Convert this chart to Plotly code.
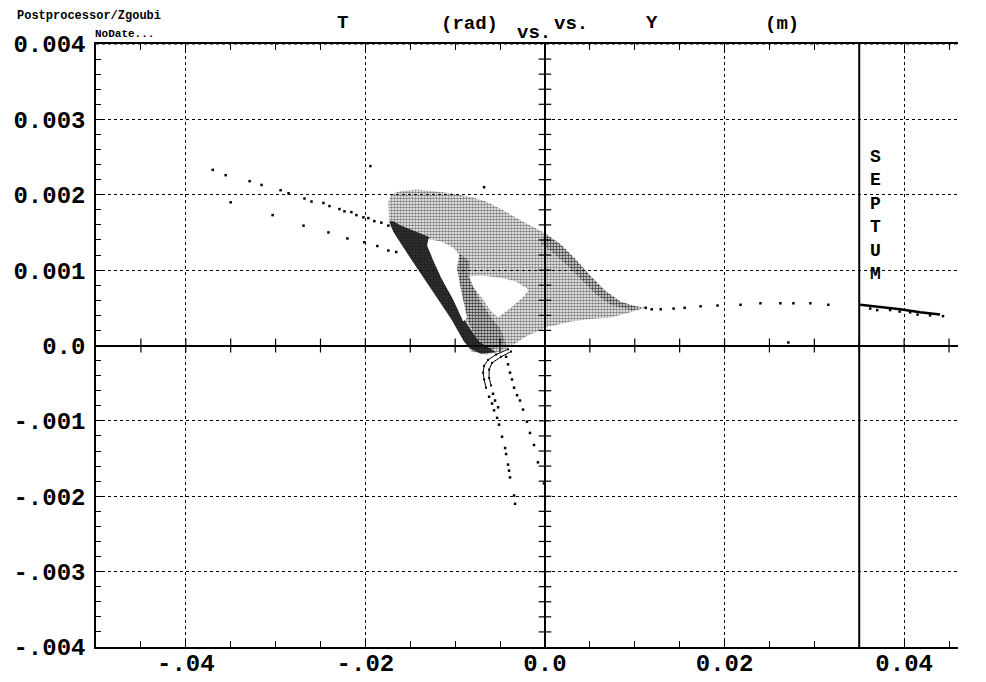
import numpy as np
import plotly.graph_objects as go

# ---------------- phase-space data : Y (m) vs T (rad) ----------------
# outer envelope of the circulating-beam cloud
cloud_y = [-0.01744, -0.01711, -0.0160, -0.01433, -0.01267, -0.01044, -0.00822, -0.00656,
           -0.00489, -0.00267, -0.00011, 0.00178, 0.00344, 0.00511, 0.00678, 0.00844,
           0.01011, 0.01122, 0.00956, 0.00733, 0.00511, 0.00289, 0.00011, -0.00211,
           -0.00378, -0.00489, -0.00656, -0.00822, -0.009, -0.01044, -0.01244, -0.01467,
           -0.01656, -0.01733]
cloud_t = [0.0019, 0.00201, 0.00205, 0.00207, 0.00205, 0.00202, 0.00197, 0.00191,
           0.00181, 0.00166, 0.0015, 0.00134, 0.00114, 0.00092, 0.00072, 0.00058,
           0.00052, 0.0005, 0.00044, 0.00037, 0.00035, 0.00032, 0.00024, 0.00012,
           -0.00001, -0.00008, -0.00012, -0.00008, 0.00005, 0.00035, 0.00072, 0.00112,
           0.00145, 0.00161]

# dense separatrix band on the left side of the cloud
band_y = [-0.01733, -0.01689, -0.01489, -0.01267, -0.01044, -0.009, -0.00822, -0.00711,
          -0.00544, -0.00733, -0.00867, -0.00989, -0.01133, -0.01244, -0.01311, -0.01289,
          -0.01433, -0.016, -0.01689]
band_t = [0.00165, 0.00151, 0.00114, 0.00074, 0.00035, 0.00005, -0.00005, -0.00011,
          -0.00009, 0.00005, 0.00028, 0.00054, 0.00085, 0.00112, 0.00134, 0.00144,
          0.00151, 0.00159, 0.00165]

# inner band between the two islands
band2_y = [-0.01022, -0.00844, -0.00844, -0.00733, -0.006, -0.00489, -0.00433, -0.006,
           -0.00733, -0.00867, -0.00933, -0.00978]
band2_t = [0.00128, 0.00112, 0.00092, 0.00061, 0.00037, 0.00021, 0.00001, -0.00005,
           0.00001, 0.00035, 0.00072, 0.00101]

# denser outer rim of the right lobe
rim_y = [-0.00011, 0.00178, 0.00344, 0.00511, 0.00678, 0.00844, 0.01011, 0.01122,
         0.00956, 0.00733, 0.00567, 0.004, 0.00233, 0.00067, -0.00044]
rim_t = [0.0015, 0.00134, 0.00114, 0.00092, 0.00072, 0.00058, 0.00052, 0.0005,
         0.00047, 0.00054, 0.00068, 0.00088, 0.00108, 0.00125, 0.00134]

# empty islands inside the cloud
hole1_y = [-0.013, -0.01156, -0.01022, -0.00956, -0.00978, -0.00933, -0.00867, -0.00911,
           -0.01022, -0.01156, -0.01256, -0.01311]
hole1_t = [0.00141, 0.00138, 0.0013, 0.00121, 0.00101, 0.00072, 0.00037, 0.00032,
           0.00061, 0.0009, 0.00117, 0.00132]
hole2_y = [-0.00844, -0.00711, -0.00489, -0.00322, -0.00178, -0.00244, -0.004, -0.00522,
           -0.006, -0.00689, -0.008]
hole2_t = [0.00092, 0.00093, 0.0009, 0.00085, 0.00074, 0.00064, 0.00048, 0.00037,
           0.00045, 0.00061, 0.00078]

# isolated particles streaming out to the upper left
stream_y = [-0.037, -0.03556, -0.03289, -0.03156, -0.02944, -0.02856, -0.02678, -0.026,
            -0.02467, -0.024, -0.02289, -0.02233, -0.02156, -0.021, -0.02022, -0.01967,
            -0.019, -0.01822, -0.01744, -0.035, -0.03033, -0.02689, -0.02411, -0.022,
            -0.02011, -0.01867, -0.01744, -0.01656, -0.01944, -0.00678]
stream_t = [0.00233, 0.00226, 0.00218, 0.00213, 0.00206, 0.00202, 0.00195, 0.00191,
            0.00189, 0.00185, 0.00181, 0.00178, 0.00177, 0.00173, 0.0017, 0.00169,
            0.00165, 0.00163, 0.00159, 0.0019, 0.00173, 0.00159, 0.0015, 0.00142,
            0.00137, 0.00132, 0.00126, 0.00124, 0.00238, 0.0021]

# lower arms below T = 0
hook1_y = [-0.00411, -0.00544, -0.00633, -0.00678, -0.00689, -0.00678, -0.00656]
hook1_t = [-0.00005, -0.00012, -0.00019, -0.00027, -0.00036, -0.00045, -0.00056]
hook2_y = [-0.00378, -0.00489, -0.00589, -0.00622, -0.00622, -0.006]
hook2_t = [-0.00008, -0.00015, -0.00023, -0.00032, -0.00043, -0.00053]
armL_y = [-0.00622, -0.00589, -0.00567, -0.00533, -0.00511, -0.00478, -0.00444, -0.00433,
          -0.00411, -0.004, -0.00389, -0.00344, -0.00333, -0.00578, -0.00556, -0.00522]
armL_t = [-0.00068, -0.00077, -0.00086, -0.00096, -0.00105, -0.00121, -0.00136, -0.00144,
          -0.00158, -0.00166, -0.00175, -0.00199, -0.0021, -0.00064, -0.00073, -0.00082]
armR_y = [-0.00433, -0.00411, -0.00389, -0.00367, -0.00344, -0.00311, -0.00278, -0.00244,
          -0.002, -0.00167, -0.00122, -0.00078, -0.00011]
armR_t = [-0.00015, -0.00025, -0.00036, -0.00045, -0.00056, -0.00066, -0.00073, -0.00085,
          -0.00101, -0.00116, -0.00132, -0.00155, -0.00183]

# extraction tail towards the septum
tail_y = [0.01122, 0.01189, 0.01289, 0.01433, 0.01556, 0.01733, 0.01922, 0.02178, 0.024,
          0.02622, 0.02767, 0.02956, 0.03156, 0.02711]
tail_t = [0.0005, 0.00048, 0.00048, 0.00049, 0.0005, 0.00052, 0.00053, 0.00054, 0.00056,
          0.00056, 0.00056, 0.00056, 0.00054, 0.00004]

# extracted beam beyond the septum
beam_y = [0.0351, 0.03733, 0.03956, 0.04178, 0.044]
beam_t = [0.00054, 0.00051, 0.00048, 0.00044, 0.00041]
beam_spread_y = [0.03622, 0.03844, 0.04067, 0.04289, 0.04433, 0.037, 0.0395, 0.0415]
beam_spread_t = [0.00049, 0.00047, 0.00044, 0.0004, 0.00039, 0.00047, 0.00045, 0.00041]

SEPTUM_Y = 0.035

# axis ticks
x_ticks = [-0.04, -0.02, 0.0, 0.02, 0.04]
x_labels = ["-.04", "-.02", "0.0", "0.02", "0.04"]
y_ticks = [-0.004, -0.003, -0.002, -0.001, 0.0, 0.001, 0.002, 0.003, 0.004]
y_labels = ["-.004", "-.003", "-.002", "-.001", "0.0", "0.001", "0.002", "0.003", "0.004"]
X_RANGE = [-0.05, 0.046]
Y_RANGE = [-0.004, 0.004]

FONT = "Courier New, Liberation Mono, monospace"

fig = go.Figure()


def dotted_area(xs, ys, solidity, size=3):
    fig.add_trace(go.Scatter(
        x=xs, y=ys, mode="lines", fill="toself",
        line=dict(width=0, color="rgba(0,0,0,0)"),
        fillcolor="rgba(0,0,0,0)",
        fillpattern=dict(shape=".", fgcolor="black", bgcolor="rgba(0,0,0,0)",
                         size=size, solidity=solidity),
        hoverinfo="skip", showlegend=False))


# cloud body, dotted texture
dotted_area(cloud_y, cloud_t, 0.55)
dotted_area(rim_y, rim_t, 0.5)
dotted_area(band2_y, band2_t, 0.65)
# dark band
fig.add_trace(go.Scatter(
    x=band_y, y=band_t, mode="lines", fill="toself",
    line=dict(width=0, color="rgba(0,0,0,0)"),
    fillcolor="rgba(15,15,15,0.85)",
    hoverinfo="skip", showlegend=False))
# islands
for hy, ht in ((hole1_y, hole1_t), (hole2_y, hole2_t)):
    fig.add_trace(go.Scatter(
        x=hy, y=ht, mode="lines", fill="toself",
        line=dict(width=0, color="rgba(0,0,0,0)"),
        fillcolor="white", hoverinfo="skip", showlegend=False))

dot = dict(symbol="square", size=2.5, color="black", line=dict(width=0))
for hy, ht in ((hook1_y, hook1_t), (hook2_y, hook2_t)):
    fig.add_trace(go.Scatter(x=hy, y=ht, mode="lines+markers",
                             line=dict(color="black", width=1),
                             marker=dict(symbol="square", size=2, color="black"),
                             showlegend=False, hoverinfo="skip"))
for py_, pt in ((stream_y, stream_t), (armL_y, armL_t), (armR_y, armR_t),
                (tail_y, tail_t), (beam_spread_y, beam_spread_t)):
    fig.add_trace(go.Scatter(x=py_, y=pt, mode="markers", marker=dot,
                             showlegend=False, hoverinfo="skip"))
fig.add_trace(go.Scatter(x=beam_y, y=beam_t, mode="lines",
                         line=dict(color="black", width=2.5),
                         showlegend=False, hoverinfo="skip"))

# septum wire
fig.add_trace(go.Scatter(x=[SEPTUM_Y, SEPTUM_Y], y=Y_RANGE, mode="lines",
                         line=dict(color="black", width=2),
                         showlegend=False, hoverinfo="skip"))

# cross ticks on the two zero axes
xt = [v for v in np.round(np.arange(-0.045, 0.0451, 0.005), 4) if abs(v) > 1e-9]
yt = [v for v in np.round(np.arange(-0.0038, 0.00381, 0.0002), 5) if abs(v) > 1e-9]
fig.add_trace(go.Scatter(x=xt, y=[0] * len(xt), mode="markers",
                         marker=dict(symbol="line-ns", size=10,
                                     line=dict(width=1.2, color="black")),
                         showlegend=False, hoverinfo="skip"))
fig.add_trace(go.Scatter(x=[0] * len(yt), y=yt, mode="markers",
                         marker=dict(symbol="line-ew", size=9,
                                     line=dict(width=1.2, color="black")),
                         showlegend=False, hoverinfo="skip"))

# dotted upper frame
fig.add_shape(type="line", xref="paper", yref="y", x0=0, x1=1,
              y0=Y_RANGE[1], y1=Y_RANGE[1],
              line=dict(color="black", width=1, dash="dot"))

tickfont = dict(family=FONT, size=24, color="black", weight="bold")
fig.update_xaxes(
    range=X_RANGE, tickmode="array", tickvals=x_ticks, ticktext=x_labels,
    tickfont=dict(family=FONT, size=24, color="black", weight="bold"),
    ticks="inside", ticklen=6, tickwidth=1, tickcolor="black",
    minor=dict(tickmode="linear", tick0=0, dtick=0.005, ticks="inside", ticklen=6,
               tickcolor="black", showgrid=False),
    showgrid=True, gridcolor="black", gridwidth=1, griddash="dot",
    zeroline=True, zerolinecolor="black", zerolinewidth=1.5,
    showline=True, linecolor="black", linewidth=1.5, mirror="ticks",
    ticklabelstandoff=-7, layer="above traces", fixedrange=True, automargin=False)
fig.update_yaxes(
    range=Y_RANGE, tickmode="array", tickvals=y_ticks, ticktext=y_labels,
    tickfont=tickfont, ticks="inside", ticklen=7, tickwidth=1, tickcolor="black",
    minor=dict(tickmode="linear", tick0=0, dtick=0.0002, ticks="inside", ticklen=5,
               tickcolor="black", showgrid=False),
    showgrid=True, gridcolor="black", gridwidth=1, griddash="dot",
    zeroline=True, zerolinecolor="black", zerolinewidth=2,
    showline=True, linecolor="black", linewidth=1.5,
    ticklabelstandoff=4, layer="above traces", fixedrange=True, automargin=False)

# header texts (pixel positions converted to paper coordinates)
L, R, T, B = 96, 958, 44, 647


def px(xp):
    return (xp - L) / (R - L)


def py(yp):
    return (B - yp) / (B - T)


head = [
    ("Postprocessor/Zgoubi", 15, 16, 12, "left"),
    ("NoDate...", 93, 34, 11, "left"),
    ("T", 342, 23, 19, "center"),
    ("(rad)", 469, 24, 19, "center"),
    ("vs.", 534, 33, 19, "center"),
    ("vs.", 571, 24, 19, "center"),
    ("Y", 652, 23, 19, "center"),
    ("(m)", 782, 24, 19, "center"),
]
for txt, xp, yp, sz, anc in head:
    fig.add_annotation(text=txt, xref="paper", yref="paper", x=px(xp), y=py(yp),
                       xanchor=anc, yanchor="middle", showarrow=False,
                       font=dict(family=FONT, size=sz, color="black", weight="bold"))

# vertical SEPTUM label
fig.add_annotation(text="<br>".join("SEPTUM"), xref="paper", yref="paper",
                   x=px(875), y=py(215), xanchor="center", yanchor="middle",
                   showarrow=False, align="center",
                   font=dict(family=FONT, size=18, color="black", weight="bold"))

fig.update_layout(
    width=986, height=682,
    margin=dict(l=L, r=986 - R, t=T, b=682 - B, pad=0),
    paper_bgcolor="white", plot_bgcolor="white",
    showlegend=False,
)

fig.write_html("out.html")
